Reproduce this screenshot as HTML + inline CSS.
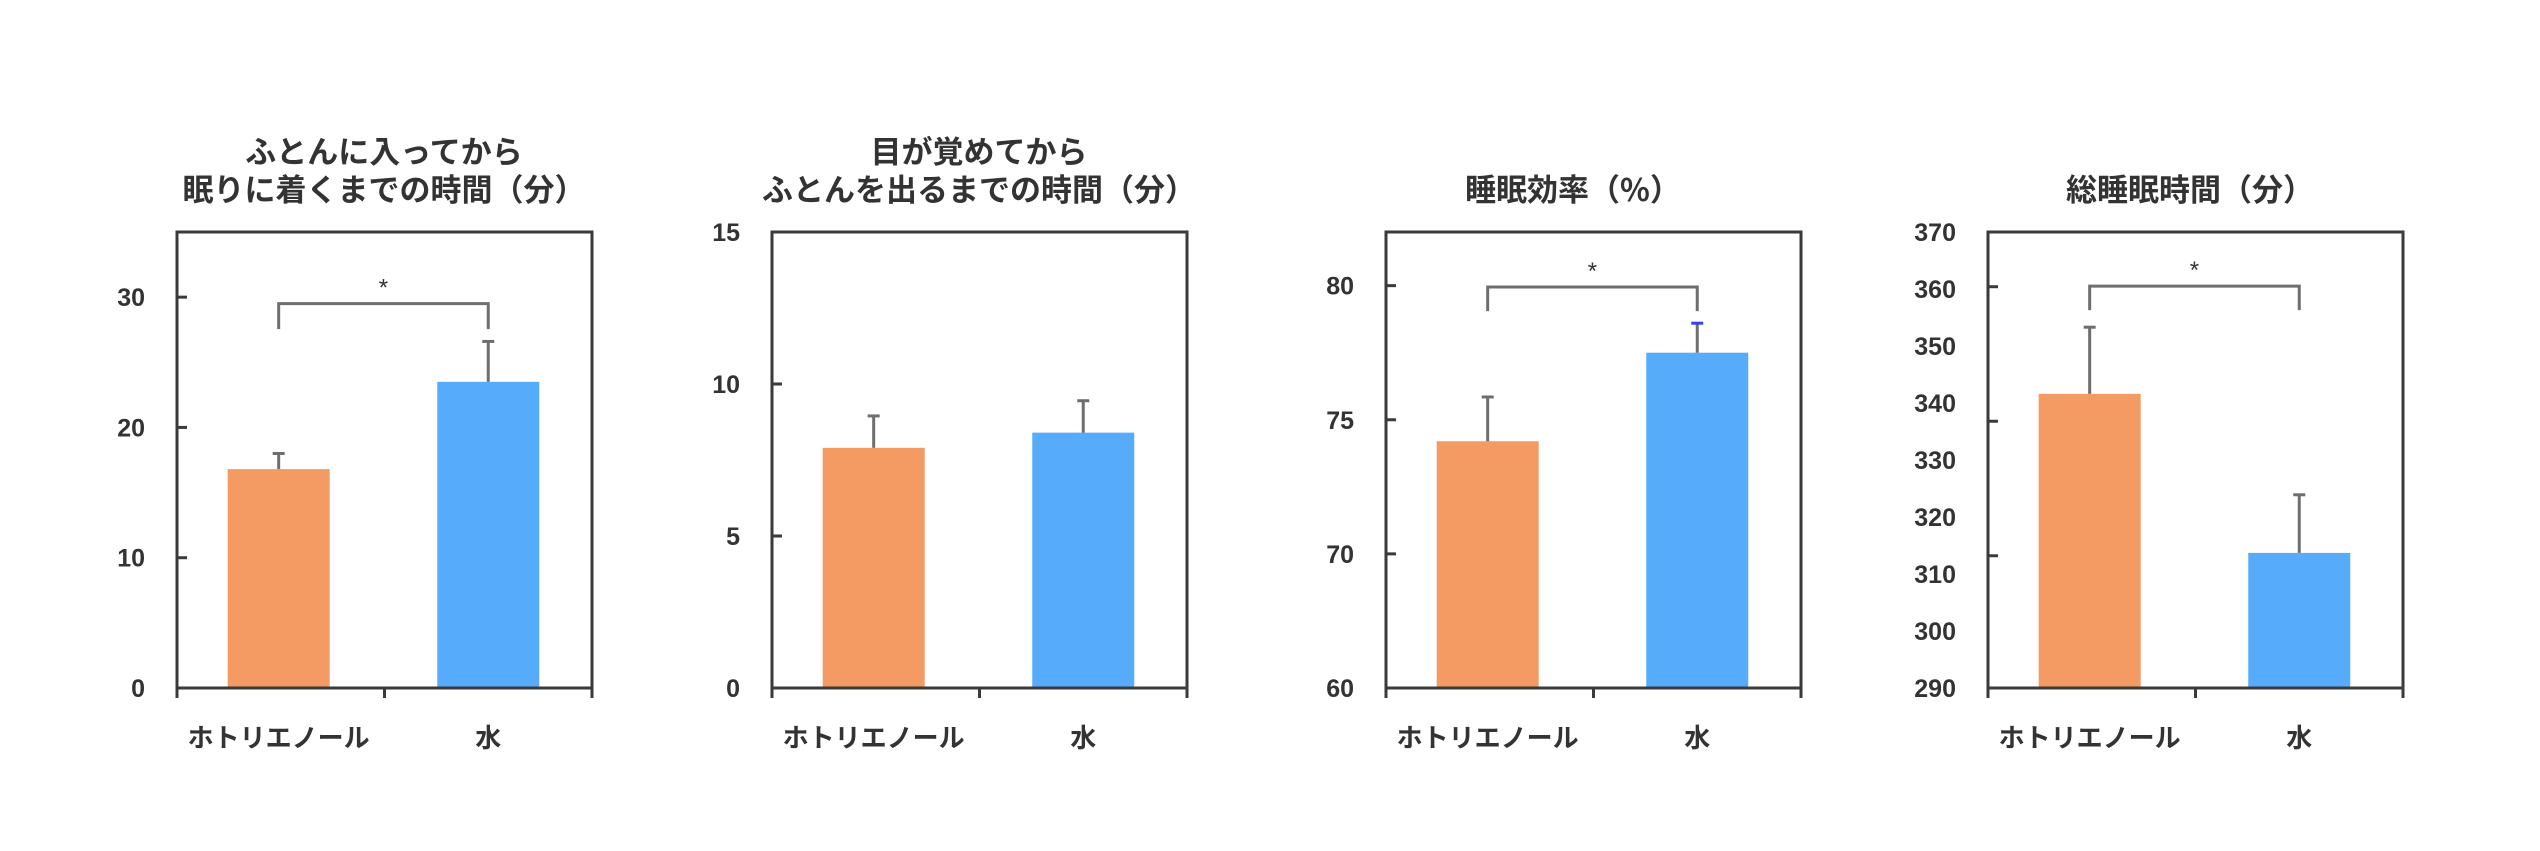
<!DOCTYPE html>
<html><head><meta charset="utf-8">
<style>
html,body{margin:0;padding:0;background:#fff;}
svg{display:block;}
text{font-family:"Liberation Sans","Noto Sans CJK JP",sans-serif;fill:#333;}
.title{font-family:"Noto Sans CJK JP","Liberation Sans",sans-serif;font-weight:bold;font-size:31px;}
.tick{font-weight:bold;font-size:25px;}
.cat{font-family:"Noto Sans CJK JP","Liberation Sans",sans-serif;font-weight:bold;font-size:26px;}
</style></head>
<body>
<svg id="chart" width="2540" height="851" viewBox="0 0 2540 851" xmlns="http://www.w3.org/2000/svg"></svg>
<script>
// shared categories
const categories = ["ホトリエノール", "水"];
// panel 1: time to fall asleep (min)
const p1Values = [16.8, 23.5];
const p1Errors = [1.2, 3.1];
const p1Ticks = [0, 10, 20, 30];
const p1TickLabels = ["0", "10", "20", "30"];
// panel 2: time to get out of bed (min)
const p2Values = [7.9, 8.4];
const p2Errors = [1.05, 1.05];
const p2Ticks = [0, 5, 10, 15];
const p2TickLabels = ["0", "5", "10", "15"];
// panel 3: sleep efficiency (%) — bottom labelled 60 (truncated axis)
const p3Values = [74.2, 77.5];
const p3Errors = [1.65, 1.1];
const p3Ticks = [65, 70, 75, 80];
const p3TickLabels = ["60", "70", "75", "80"];
// panel 4: total sleep time (min)
const p4Values = [341.6, 313.7];
const p4Errors = [11.7, 10.2];
const p4Ticks = [290, 300, 310, 320, 330, 340, 350, 360, 370];
const p4TickLabels = ["290", "300", "310", "320", "330", "340", "350", "360", "370"];
const p4TickMarks = [313.2, 336.8, 360.4];

const svg = document.getElementById('chart');
const NS = 'http://www.w3.org/2000/svg';
function mk(tag, attrs){ const e=document.createElementNS(NS,tag); for(const k in attrs) e.setAttribute(k,attrs[k]); svg.appendChild(e); return e; }

const colors = ["#f39b63", "#56abfa"];
const panels = [
  {name:'sleep-onset', left:177, right:592, top:232, bottom:688, min:0, max:35, values:p1Values, errors:p1Errors, ticks:p1Ticks, labels:p1TickLabels, marks:[10,20,30], title:["ふとんに入ってから","眠りに着くまでの時間（分）"], tcx:384, sig:{y:29.5, leg:27.55}},
  {name:'wake-to-rise', left:772, right:1187, top:232, bottom:688, min:0, max:15, values:p2Values, errors:p2Errors, ticks:p2Ticks, labels:p2TickLabels, marks:[5,10], title:["目が覚めてから","ふとんを出るまでの時間（分）"], tcx:979, sig:null},
  {name:'sleep-efficiency', left:1386, right:1801, top:232, bottom:688, min:65, max:82, values:p3Values, errors:p3Errors, ticks:p3Ticks, labels:p3TickLabels, marks:[70,75,80], title:["睡眠効率（%）"], tcx:1573, sig:{y:79.95, leg:79.05}},
  {name:'total-sleep', left:1988, right:2403, top:232, bottom:688, min:290, max:370, values:p4Values, errors:p4Errors, ticks:p4Ticks, labels:p4TickLabels, marks:p4TickMarks, title:["総睡眠時間（分）"], tcx:2190, sig:{y:360.5, leg:356.3}}
];

panels.forEach((p)=>{
  const y = v => p.bottom - (v - p.min) / (p.max - p.min) * (p.bottom - p.top);
  const w = p.right - p.left;
  const catCenter = i => p.left + w * (i === 0 ? 0.245 : 0.75);
  const bw = 102;
  // title
  const lines = p.title;
  lines.forEach((ln, li)=>{
    const t = mk('text', {x:p.tcx, y:(lines.length===2 ? 163 + li*38 : 201), 'text-anchor':'middle', class:'title'});
    
    
    t.textContent = ln;
  });
  // bars
  p.values.forEach((v,i)=>{
    const cx = catCenter(i);
    const r = mk('rect', {x:cx-bw/2, y:y(v), width:bw, height:p.bottom-y(v), fill:colors[i]});
    
    
    const et = y(v + p.errors[i]);
    const el = mk('line', {x1:cx, x2:cx, y1:y(v), y2:et, stroke:'#6e6e6e', 'stroke-width':3});
    
    
    const cap = mk('line', {x1:cx-6, x2:cx+6, y1:et, y2:et, stroke:(p.name==='sleep-efficiency'&&i===1)?'#3344ee':'#6e6e6e', 'stroke-width':3});
    
    
    // category label
    const ct = mk('text', {x:cx, y:747, 'text-anchor':'middle', class:'cat'});
    
    
    ct.textContent = categories[i];
  });
  // frame
  const fr = mk('rect', {x:p.left, y:p.top, width:w, height:p.bottom-p.top, fill:'none', stroke:'#3a3a3a', 'stroke-width':3});
  
  
  // x ticks
  [p.left, (p.left+p.right)/2, p.right].forEach(x=>{
    const tk = mk('line', {x1:x, x2:x, y1:p.bottom, y2:p.bottom+10, stroke:'#3a3a3a', 'stroke-width':3});
    
    
  });
  // y tick marks
  p.marks.forEach(v=>{
    const tk = mk('line', {x1:p.left, x2:p.left+10, y1:y(v), y2:y(v), stroke:'#3a3a3a', 'stroke-width':3});
    
    
  });
  // y tick labels
  p.ticks.forEach((v,i)=>{
    const t = mk('text', {x:p.left-32, y:y(v)+9, 'text-anchor':'end', class:'tick'});
    
    
    t.textContent = p.labels[i];
  });
  // significance bracket
  if (p.sig){
    const x1 = catCenter(0), x2 = catCenter(1);
    const by = y(p.sig.y), ly = y(p.sig.leg);
    const br = mk('path', {d:`M${x1},${ly} L${x1},${by} L${x2},${by} L${x2},${ly}`, fill:'none', stroke:'#6e6e6e', 'stroke-width':3});
    
    
    const st = mk('text', {x:(x1+x2)/2, y:by-8, 'text-anchor':'middle', 'font-size':24});
    
    
    st.textContent = '*';
  }
});
</script>
</body></html>
